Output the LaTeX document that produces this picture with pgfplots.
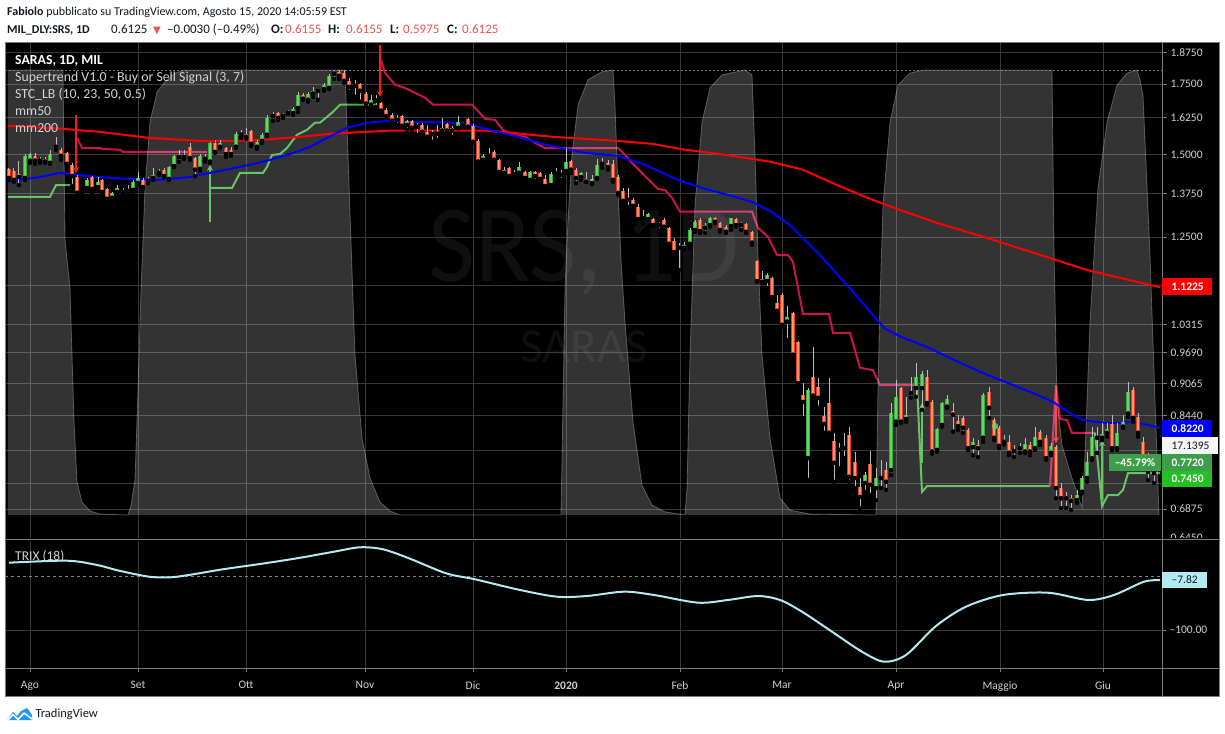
\documentclass[border=0pt]{standalone}
\usepackage{fontspec}
\setmainfont{Carlito}
\newfontfamily\dejavu{DejaVu Sans}
\usepackage{pgfplots}
\usepackage{pgfplotstable}
\pgfplotsset{compat=1.18}
\usetikzlibrary{arrows.meta}

\definecolor{gridc}{HTML}{383838}
\definecolor{axc}{HTML}{7B7B7B}
\definecolor{ticktxt}{HTML}{D0D0D0}
\definecolor{legtxt}{HTML}{D4D4D4}
\definecolor{upfill}{HTML}{62D962}
\definecolor{upline}{HTML}{3DAA3D}
\definecolor{dnfill}{HTML}{FF9A62}
\definecolor{dnline}{HTML}{F2382E}
\definecolor{wick}{HTML}{BDBDBD}
\definecolor{stcrim}{HTML}{CC1150}
\definecolor{stgreen}{HTML}{43B443}
\definecolor{sellred}{HTML}{FF1A1A}
\definecolor{trixc}{HTML}{B2EBF2}
\definecolor{hdr}{HTML}{131722}
\definecolor{hdrred}{HTML}{EF5350}
\definecolor{tvblue}{HTML}{2196F3}
\definecolor{badgegreen}{HTML}{3D9E49}
\definecolor{badgelime}{HTML}{22C022}

% daily candles: pixel column x, open, high, low, close
\pgfplotstableread{
x o h l c
9 1.453 1.456 1.418 1.424
14 1.446 1.456 1.412 1.418
19 1.437 1.478 1.402 1.427
25 1.424 1.501 1.418 1.494
30 1.479 1.505 1.472 1.501
35 1.494 1.505 1.469 1.479
40 1.482 1.491 1.472 1.479
45 1.485 1.491 1.472 1.476
50 1.472 1.515 1.469 1.501
56 1.525 1.559 1.515 1.532
61 1.515 1.521 1.482 1.495
67 1.505 1.508 1.466 1.469
72 1.466 1.472 1.399 1.430
77 1.427 1.433 1.372 1.378
82 1.378 1.384 1.366 1.377
87 1.393 1.424 1.384 1.418
92 1.427 1.430 1.381 1.390
98 1.396 1.427 1.387 1.412
102 1.418 1.421 1.378 1.381
107 1.390 1.393 1.351 1.360
112 1.363 1.381 1.357 1.378
117 1.381 1.402 1.378 1.393
123 1.387 1.393 1.378 1.381
128 1.384 1.402 1.375 1.390
133 1.387 1.418 1.381 1.412
138 1.408 1.443 1.402 1.424
143 1.418 1.424 1.393 1.396
148 1.415 1.427 1.408 1.421
153 1.424 1.456 1.418 1.434
159 1.440 1.453 1.434 1.446
164 1.450 1.456 1.427 1.430
169 1.421 1.462 1.418 1.459
174 1.462 1.498 1.459 1.494
179 1.494 1.515 1.476 1.491
184 1.491 1.515 1.485 1.494
190 1.525 1.538 1.482 1.488
195 1.488 1.491 1.430 1.450
200 1.453 1.501 1.446 1.494
205 1.491 1.501 1.476 1.485
210 1.476 1.542 1.472 1.538
215 1.538 1.548 1.505 1.508
220 1.525 1.548 1.521 1.538
226 1.521 1.525 1.491 1.501
231 1.515 1.525 1.495 1.501
236 1.525 1.576 1.521 1.569
241 1.566 1.583 1.555 1.573
246 1.569 1.590 1.552 1.559
251 1.580 1.583 1.528 1.535
257 1.525 1.548 1.518 1.542
262 1.545 1.573 1.538 1.566
267 1.566 1.636 1.562 1.625
273 1.632 1.647 1.615 1.640
278 1.643 1.647 1.618 1.625
283 1.632 1.643 1.625 1.640
288 1.643 1.654 1.640 1.647
293 1.643 1.665 1.636 1.658
298 1.661 1.721 1.647 1.710
303 1.710 1.717 1.691 1.695
308 1.691 1.721 1.684 1.714
313 1.714 1.740 1.702 1.725
318 1.725 1.736 1.691 1.732
324 1.732 1.755 1.725 1.748
329 1.736 1.791 1.732 1.783
334 1.791 1.806 1.771 1.799
339 1.799 1.806 1.771 1.783
344 1.795 1.806 1.755 1.763
349 1.763 1.775 1.721 1.740
355 1.744 1.767 1.702 1.748
360 1.751 1.755 1.684 1.725
366 1.714 1.721 1.665 1.677
371 1.673 1.710 1.665 1.691
376 1.688 1.710 1.665 1.695
381 1.680 1.684 1.643 1.651
386 1.654 1.661 1.625 1.632
392 1.636 1.643 1.611 1.615
397 1.618 1.636 1.600 1.625
402 1.632 1.636 1.594 1.597
407 1.600 1.618 1.583 1.615
412 1.615 1.618 1.583 1.590
417 1.594 1.608 1.566 1.600
422 1.600 1.608 1.573 1.576
427 1.576 1.600 1.555 1.559
432 1.570 1.583 1.542 1.568
437 1.569 1.600 1.548 1.576
442 1.580 1.625 1.576 1.590
447 1.604 1.608 1.576 1.580
452 1.580 1.597 1.559 1.590
458 1.590 1.632 1.587 1.611
463 1.617 1.625 1.600 1.619
468 1.622 1.625 1.590 1.594
473 1.597 1.604 1.538 1.542
478 1.545 1.552 1.472 1.476
483 1.482 1.501 1.476 1.495
489 1.495 1.521 1.488 1.501
494 1.508 1.515 1.479 1.482
499 1.482 1.485 1.440 1.443
504 1.440 1.459 1.427 1.450
509 1.456 1.459 1.421 1.430
514 1.437 1.450 1.430 1.436
519 1.440 1.476 1.434 1.459
525 1.443 1.446 1.418 1.424
530 1.418 1.446 1.405 1.443
535 1.443 1.446 1.415 1.430
540 1.440 1.443 1.415 1.421
545 1.421 1.434 1.396 1.399
551 1.402 1.443 1.396 1.437
556 1.439 1.456 1.427 1.440
561 1.437 1.450 1.418 1.434
566 1.446 1.521 1.440 1.476
571 1.479 1.482 1.440 1.450
576 1.450 1.456 1.408 1.424
581 1.427 1.443 1.418 1.440
586 1.421 1.443 1.412 1.412
592 1.408 1.434 1.405 1.421
597 1.424 1.485 1.421 1.466
602 1.469 1.488 1.456 1.472
608 1.472 1.482 1.450 1.459
613 1.469 1.482 1.412 1.418
618 1.427 1.434 1.372 1.378
623 1.384 1.393 1.351 1.354
628 1.357 1.393 1.336 1.360
633 1.357 1.363 1.330 1.339
638 1.336 1.345 1.298 1.301
643 1.303 1.327 1.290 1.304
648 1.301 1.319 1.298 1.316
653 1.301 1.304 1.281 1.284
659 1.285 1.293 1.270 1.284
664 1.298 1.304 1.270 1.279
669 1.276 1.279 1.229 1.232
674 1.240 1.248 1.208 1.210
679 1.222 1.235 1.163 1.221
684 1.221 1.237 1.216 1.229
690 1.232 1.276 1.221 1.270
695 1.270 1.298 1.265 1.293
700 1.298 1.304 1.262 1.267
705 1.276 1.290 1.262 1.284
710 1.284 1.307 1.279 1.304
715 1.304 1.307 1.290 1.293
720 1.290 1.293 1.265 1.270
726 1.279 1.284 1.262 1.265
731 1.281 1.304 1.270 1.304
736 1.301 1.304 1.279 1.284
741 1.285 1.293 1.270 1.284
746 1.287 1.290 1.262 1.265
752 1.265 1.267 1.229 1.235
757 1.186 1.189 1.133 1.135
762 1.140 1.161 1.130 1.133
767 1.135 1.156 1.118 1.151
772 1.143 1.145 1.089 1.096
777 1.082 1.101 1.058 1.063
782 1.101 1.106 1.025 1.031
787 1.038 1.075 0.997 1.049
793 1.058 1.061 0.961 0.965
798 0.993 0.995 0.903 0.907
803 0.884 0.907 0.840 0.870
808 0.769 0.897 0.733 0.893
813 0.919 0.982 0.880 0.882
818 0.899 0.917 0.859 0.878
824 0.844 0.861 0.813 0.829
829 0.868 0.917 0.809 0.813
834 0.799 0.813 0.730 0.761
839 0.783 0.795 0.752 0.786
844 0.787 0.813 0.769 0.786
849 0.809 0.824 0.730 0.738
855 0.763 0.780 0.720 0.736
860 0.722 0.736 0.689 0.706
865 0.728 0.746 0.714 0.741
870 0.759 0.781 0.709 0.725
876 0.720 0.752 0.701 0.736
881 0.736 0.766 0.720 0.738
886 0.749 0.762 0.717 0.730
891 0.749 0.868 0.741 0.849
896 0.833 0.913 0.827 0.880
901 0.897 0.899 0.831 0.833
906 0.838 0.880 0.833 0.846
911 0.888 0.919 0.878 0.887
916 0.897 0.948 0.880 0.919
922 0.897 0.931 0.855 0.925
927 0.919 0.933 0.865 0.868
932 0.870 0.874 0.776 0.780
937 0.783 0.822 0.780 0.820
942 0.827 0.870 0.824 0.868
947 0.861 0.884 0.859 0.876
953 0.853 0.868 0.815 0.846
958 0.834 0.846 0.818 0.825
963 0.840 0.844 0.813 0.822
968 0.818 0.822 0.783 0.786
973 0.788 0.804 0.774 0.797
978 0.792 0.800 0.771 0.786
983 0.804 0.888 0.797 0.884
989 0.890 0.899 0.840 0.859
994 0.836 0.840 0.800 0.804
999 0.822 0.825 0.786 0.790
1004 0.797 0.809 0.792 0.799
1009 0.797 0.809 0.774 0.778
1014 0.781 0.792 0.771 0.783
1020 0.786 0.795 0.778 0.790
1025 0.780 0.804 0.778 0.793
1030 0.792 0.797 0.774 0.780
1035 0.786 0.824 0.783 0.806
1040 0.815 0.818 0.792 0.797
1046 0.804 0.809 0.766 0.769
1051 0.778 0.795 0.774 0.790
1056 0.788 0.792 0.704 0.720
1061 0.720 0.728 0.689 0.704
1066 0.707 0.714 0.689 0.704
1071 0.704 0.709 0.686 0.700
1077 0.701 0.717 0.697 0.709
1082 0.714 0.739 0.712 0.736
1087 0.736 0.780 0.730 0.762
1092 0.769 0.824 0.766 0.806
1097 0.805 0.824 0.778 0.804
1102 0.804 0.831 0.800 0.811
1107 0.813 0.831 0.806 0.820
1112 0.829 0.846 0.783 0.786
1117 0.786 0.831 0.783 0.813
1123 0.824 0.846 0.822 0.833
1128 0.848 0.909 0.842 0.890
1133 0.893 0.899 0.833 0.840
1138 0.842 0.849 0.806 0.813
1143 0.797 0.806 0.759 0.762
1148 0.748 0.778 0.733 0.746
1154 0.748 0.775 0.728 0.744
}\candles

% STC_LB oscillator (0-100)
\pgfplotstableread{
x v
8 100
63 100
64 80
65 62
70 51
74 21.3
77 7.4
82 2.9
90 0.9
100 0.2
128 0
131 2.2
135 7.9
138 28.5
141 50.6
145 73.5
150 88.3
157 95.1
165 97.3
175 99.3
185 100
345 100
348 80.9
352 55
355 36
362 17.3
370 8.3
380 2.9
390 0.9
400 0
561 0
565 51
568 66.3
572 80.9
578 92.1
588 97.8
602 99.6
613 100
615 92.1
618 73.5
621 57.3
625 43.4
633 20.9
642 6.7
652 2.2
665 0.7
685 0
687 6.1
690 36
695 69.7
702 88.3
710 96
722 98.9
745 100
752 98.9
755 80.9
758 58.4
762 36
770 17.3
780 3.8
790 1.1
810 0.2
876 0
878 28.5
880 48.3
883 69.7
890 88.3
898 96.6
910 99.3
923 100
1052 100
1054 59.6
1057 25.8
1062 15.7
1070 9.7
1082 1.6
1085 13.5
1090 43.4
1098 73.5
1107 88.3
1117 96.6
1127 99.3
1137 100
1140 97.8
1143 94.4
1150 58.4
1155 25.8
1159 0
}\stc

\begin{document}
\begin{tikzpicture}[x=1pt,y=1pt]
\fill[white] (0,0) rectangle (1225,733);
\fill[black] (5,36) rectangle (1219,690);
% watermark
\node[anchor=base, text=white, text opacity=0.06, font=\fontsize{110}{110}\selectfont, xscale=0.93, inner sep=0] at (584,451) {SRS, 1D};
\node[anchor=base, text=white, text opacity=0.06, font=\fontsize{49}{49}\selectfont, inner sep=0] at (584,370) {SARAS};

% price pane: grid, ticks, supertrend
\begin{axis}[
  at={(5pt,193pt)}, anchor=south west, scale only axis, width=1157pt, height=497pt,
  xmin=5, xmax=1162, ymode=log, ymin=0.6422, ymax=1.9166,
  axis line style={draw=none},
  xtick={30,138,246,365,473,566,680,782,896,1000,1103}, xticklabels={},
  ytick={0.645,0.6875,0.7265,0.7815,0.844,0.9065,0.969,1.0315,1.125,1.25,1.375,1.5,1.625,1.75,1.875},
  yticklabels={0.6450,0.6875,,,0.8440,0.9065,0.9690,1.0315,,1.2500,1.3750,1.5000,1.6250,1.7500,1.8750},
  ytick pos=right, yticklabel pos=right, xtick pos=bottom,
  tick align=outside, major tick length=5pt,
  xtick style={draw=none}, ytick style={draw=axc, line width=1pt},
  grid=major, major grid style={draw=gridc, line width=1pt},
  tick label style={font=\fontsize{11.5}{12}\selectfont, text=ticktxt},
]
\addplot[stgreen, line width=2pt] coordinates {(8,1.366) (50,1.366) (56,1.402) (73,1.402)};
\addplot[stcrim, line width=2pt] coordinates {(77,1.555) (82,1.521) (100,1.521) (103,1.518) (120,1.515) (123,1.508) (207,1.508)};
\addplot[stgreen, line width=2pt] coordinates {(210,1.393) (232,1.393) (240,1.440) (263,1.440) (267,1.459) (272,1.498) (280,1.501) (287,1.521) (297,1.566) (307,1.583) (315,1.608) (320,1.608) (333,1.647) (340,1.673) (377,1.673)};
\addplot[stcrim, line width=2pt] coordinates {(381,1.846) (385,1.795) (395,1.748) (405,1.736) (415,1.717) (425,1.699) (433,1.673) (472,1.673) (485,1.622) (495,1.618) (503,1.583) (512,1.566) (525,1.559) (535,1.538) (545,1.521) (618,1.521) (625,1.498) (632,1.472) (642,1.440) (652,1.408) (658,1.390) (665,1.387) (672,1.363) (680,1.322) (752,1.322) (758,1.276) (768,1.251) (777,1.202) (788,1.202) (793,1.184) (798,1.118) (803,1.056) (829,1.056) (833,1.013) (850,1.013) (860,0.938) (873,0.933) (880,0.903) (917,0.903)};
\addplot[stgreen, line width=2pt] coordinates {(917,0.903) (922,0.714) (927,0.723) (1050,0.723)};
\addplot[stcrim, line width=2pt] coordinates {(1050,0.723) (1056,0.903) (1060,0.838) (1067,0.836) (1072,0.813) (1095,0.813)};
\addplot[stgreen, line width=2pt] coordinates {(1095,0.813) (1102,0.692) (1108,0.709) (1118,0.709) (1123,0.717) (1128,0.744) (1160,0.744)};
% buy / sell signals
\addplot[sellred, line width=1.5pt, -{Stealth[length=6pt,width=6pt]}] coordinates {(76,1.636) (76,1.440)};
\addplot[sellred, line width=1.5pt, -{Stealth[length=6pt,width=6pt]}] coordinates {(380,1.908) (380,1.702)};
\addplot[sellred, line width=1.5pt, -{Stealth[length=6pt,width=6pt]}] coordinates {(1056,0.903) (1056,0.795)};
\addplot[stgreen, line width=1.5pt, -{Stealth[length=6pt,width=6pt]}] coordinates {(210,1.293) (210,1.466)};
\addplot[stgreen, line width=1.5pt, -{Stealth[length=6pt,width=6pt]}] coordinates {(922,0.761) (922,0.868)};
\addplot[stgreen, line width=1.5pt, -{Stealth[length=6pt,width=6pt]}] coordinates {(1102,0.701) (1102,0.800)};
\end{axis}

% STC_LB shaded oscillator
\begin{axis}[
  at={(5pt,193pt)}, anchor=south west, scale only axis, width=1157pt, height=497pt,
  xmin=5, xmax=1162, ymin=-5.62, ymax=106.07, hide axis,
]
\addplot[draw=none, fill=white, fill opacity=0.2] table[x=x, y=v] {\stc} \closedcycle;
\addplot[white, draw opacity=0.28, line width=0.8pt] table[x=x, y=v] {\stc};
\addplot[gray, line width=0.8pt, dash pattern=on 2pt off 2pt] coordinates {(5,100) (1162,100)};
\end{axis}

% moving averages and candles
\begin{axis}[
  at={(5pt,193pt)}, anchor=south west, scale only axis, width=1157pt, height=497pt,
  xmin=5, xmax=1162, ymode=log, ymin=0.6422, ymax=1.9166, hide axis,
]
\addplot[red, line width=2pt, line join=round] coordinates {(8,1.597) (60,1.587) (100,1.576) (150,1.555) (200,1.545) (230,1.545) (260,1.548) (300,1.559) (330,1.569) (365,1.576) (390,1.580) (485,1.580) (502,1.576) (552,1.559) (618,1.545) (652,1.535) (685,1.515) (718,1.502) (752,1.485) (770,1.476) (803,1.450) (837,1.402) (870,1.360) (903,1.324) (937,1.290) (987,1.248) (1037,1.205) (1087,1.163) (1120,1.143) (1160,1.120)};
\addplot[blue, line width=2pt, line join=round] coordinates {(8,1.412) (20,1.418) (40,1.427) (60,1.440) (70,1.437) (90,1.430) (110,1.424) (130,1.421) (160,1.418) (170,1.421) (190,1.427) (210,1.440) (230,1.453) (250,1.466) (267,1.479) (290,1.501) (310,1.525) (327,1.555) (347,1.590) (367,1.608) (390,1.615) (418,1.611) (452,1.608) (472,1.600) (485,1.587) (518,1.559) (542,1.535) (565,1.518) (585,1.505) (618,1.495) (645,1.466) (678,1.418) (702,1.393) (735,1.366) (752,1.351) (770,1.324) (790,1.284) (820,1.202) (853,1.108) (885,1.022) (903,1.002) (927,0.982) (943,0.965) (983,0.927) (1003,0.911) (1037,0.884) (1053,0.870) (1070,0.849) (1083,0.836) (1103,0.831) (1123,0.831) (1133,0.834) (1143,0.829) (1160,0.822)};
% wicks
\addplot[only marks, mark=none, error bars/.cd, y dir=plus, y explicit, error mark=none,
  error bar style={color=wick, line width=1pt}]
  table[x=x, y=l, y error expr=\thisrow{h}-\thisrow{l}] {\candles};
% up bodies
\addplot[only marks, mark=none, restrict expr to domain={\thisrow{c}-\thisrow{o}}{0:1},
  error bars/.cd, y dir=plus, y explicit, error mark=none,
  error bar style={color=upline, line width=4.6pt}]
  table[x=x, y=o, y error expr=\thisrow{c}-\thisrow{o}] {\candles};
\addplot[only marks, mark=none, restrict expr to domain={\thisrow{c}-\thisrow{o}}{0:1},
  error bars/.cd, y dir=plus, y explicit, error mark=none,
  error bar style={color=upfill, line width=2.8pt}]
  table[x=x, y=o, y error expr=\thisrow{c}-\thisrow{o}] {\candles};
% down bodies
\addplot[only marks, mark=none, restrict expr to domain={\thisrow{o}-\thisrow{c}}{0.0001:1},
  error bars/.cd, y dir=plus, y explicit, error mark=none,
  error bar style={color=dnline, line width=4.6pt}]
  table[x=x, y=c, y error expr=\thisrow{o}-\thisrow{c}] {\candles};
\addplot[only marks, mark=none, restrict expr to domain={\thisrow{o}-\thisrow{c}}{0.0001:1},
  error bars/.cd, y dir=plus, y explicit, error mark=none,
  error bar style={color=dnfill, line width=2.8pt}]
  table[x=x, y=c, y error expr=\thisrow{o}-\thisrow{c}] {\candles};
\addplot[only marks, mark=*, mark size=3pt, color=upfill, opacity=0.8] coordinates {(995,0.825)};
\end{axis}

% TRIX pane
\fill[black] (5,36) rectangle (1219,194.5);
\begin{axis}[
  at={(5pt,65pt)}, anchor=south west, scale only axis, width=1157pt, height=127pt,
  xmin=5, xmax=1162, ymin=-169.6, ymax=64.5,
  axis line style={draw=none},
  xtick={30,138,246,365,473,566,680,782,896,1000,1103},
  xticklabels={Ago,Set,Ott,Nov,Dic,\textbf{2020},Feb,Mar,Apr,Maggio,Giu},
  ytick={-100}, yticklabels={--100.00},
  xtick pos=bottom, ytick pos=right, yticklabel pos=right,
  tick align=outside, major tick length=4pt,
  tick style={draw=axc, line width=1pt},
  grid=major, major grid style={draw=gridc, line width=1pt},
  tick label style={font=\fontsize{11.5}{12}\selectfont, text=ticktxt},
  xticklabel style={yshift=-6pt},
]
\addplot[gray, line width=0.8pt, dash pattern=on 3pt off 3pt] coordinates {(5,0) (1162,0)};
\addplot[trixc, line width=2pt, smooth] coordinates {(9,24.5) (67,28.2) (97,20.3) (119,9.8) (149,-1.3) (171,-2.4) (193,3.1) (223,12.4) (260,22.1) (297,32.6) (334,44.8) (360,52.9) (383,49.2) (409,32.6) (446,5.0) (475,-6.1) (520,-25.8) (557,-38.2) (587,-36.9) (624,-28.9) (654,-35.0) (698,-49.2) (728,-44.2) (758,-36.9) (780,-44.2) (802,-65.8) (832,-102.7) (862,-139.6) (884,-158.0) (906,-145.6) (936,-92.2) (966,-56.6) (1003,-35.0) (1048,-30.8) (1088,-44.2) (1114,-35.0) (1144,-10.5) (1160,-7.8)};
\end{axis}

% frame lines
\draw[axc, line width=1pt] (5,36) rectangle (1219,690);
\draw[axc, line width=1pt] (1162,36) -- (1162,690);
\draw[axc, line width=1pt] (5,193) -- (1219,193);
\draw[axc, line width=1pt] (5,64) -- (1219,64);

% value badges
\fill[red] (1162,438) rectangle (1212,455);
\node[anchor=west, text=white, font=\bfseries\fontsize{11.5}{12}\selectfont] at (1168,446.5) {1.1225};
\fill[blue] (1162,296) rectangle (1212,313);
\node[anchor=west, text=white, font=\bfseries\fontsize{11.5}{12}\selectfont] at (1168,304.5) {0.8220};
\fill[white!96!black] (1162,279) rectangle (1218,296);
\node[anchor=west, text=hdr, font=\fontsize{11.5}{12}\selectfont] at (1168,287.5) {17.1395};
\fill[badgegreen] (1162,262) rectangle (1212,279);
\node[anchor=west, text=white, font=\bfseries\fontsize{11.5}{12}\selectfont] at (1168,270.5) {0.7720};
\fill[badgegreen] (1109,262) rectangle (1161,279);
\node[text=white, font=\bfseries\fontsize{11.5}{12}\selectfont] at (1135,270.5) {--45.79\%};
\fill[badgelime] (1162,246) rectangle (1212,262);
\node[anchor=west, text=white, font=\bfseries\fontsize{11.5}{12}\selectfont] at (1168,254) {0.7450};
\fill[trixc] (1162,145) rectangle (1207,161);
\node[anchor=west, text=hdr, font=\fontsize{11.5}{12}\selectfont] at (1168,153) {--7.82};

% legends
\node[anchor=base west, inner sep=0, text=white, font=\bfseries\fontsize{13.8}{15}\selectfont] at (15,668.7) {SARAS, 1D, MIL};
\node[anchor=base west, inner sep=0, text=legtxt, font=\fontsize{13.8}{15}\selectfont] at (15,651.3) {Supertrend V1.0 - Buy or Sell Signal (3, 7)};
\node[anchor=base west, inner sep=0, text=legtxt, font=\fontsize{13.8}{15}\selectfont] at (15,634) {STC\_LB (10, 23, 50, 0.5)};
\node[anchor=base west, inner sep=0, text=legtxt, font=\fontsize{13.8}{15}\selectfont] at (15,617) {mm50};
\node[anchor=base west, inner sep=0, text=legtxt, font=\fontsize{13.8}{15}\selectfont] at (15,600) {mm200};
\node[anchor=base west, inner sep=0, text=ticktxt, font=\fontsize{13.5}{14}\selectfont] at (15,172) {TRIX (18)};

% header
\node[anchor=base west, inner sep=0, text=hdr, font=\fontsize{12}{14}\selectfont] at (7,717) {\textbf{Fabiolo} pubblicato su TradingView.com, Agosto 15, 2020 14:05:59 EST};
\begin{scope}[every node/.style={anchor=base west, inner sep=0, text=hdr, font=\fontsize{13}{14}\selectfont}]
\node at (7,699) {\fontsize{12}{14}\selectfont\bfseries MIL\_DLY:SRS, 1D};
\node at (111,699) {0.6125};
\node[text=hdrred] at (153,699) {\dejavu\fontsize{10}{10}\selectfont ▼};
\node at (167,699) {--0.0030 (--0.49\%)};
\node at (271,699) {\bfseries O:};
\node[text=hdrred] at (285,699) {0.6155};
\node at (328,699) {\bfseries H:};
\node[text=hdrred] at (346,699) {0.6155};
\node at (390,699) {\bfseries L:};
\node[text=hdrred] at (403,699) {0.5975};
\node at (447,699) {\bfseries C:};
\node[text=hdrred] at (462,699) {0.6125};
\end{scope}

% footer logo
\fill[tvblue] (7,13) -- (13,21) -- (17,17) -- (21,22) -- (27,25) -- (32,18) -- (32,13) -- cycle;
\draw[white, line width=1.6pt, line join=round] (7,12) -- (13,18.5) -- (18,13.5) -- (24,20) -- (32,14);
\node[anchor=west, text=hdr, font=\fontsize{12.5}{14}\selectfont] at (32,19) {TradingView};
\end{tikzpicture}
\end{document}
